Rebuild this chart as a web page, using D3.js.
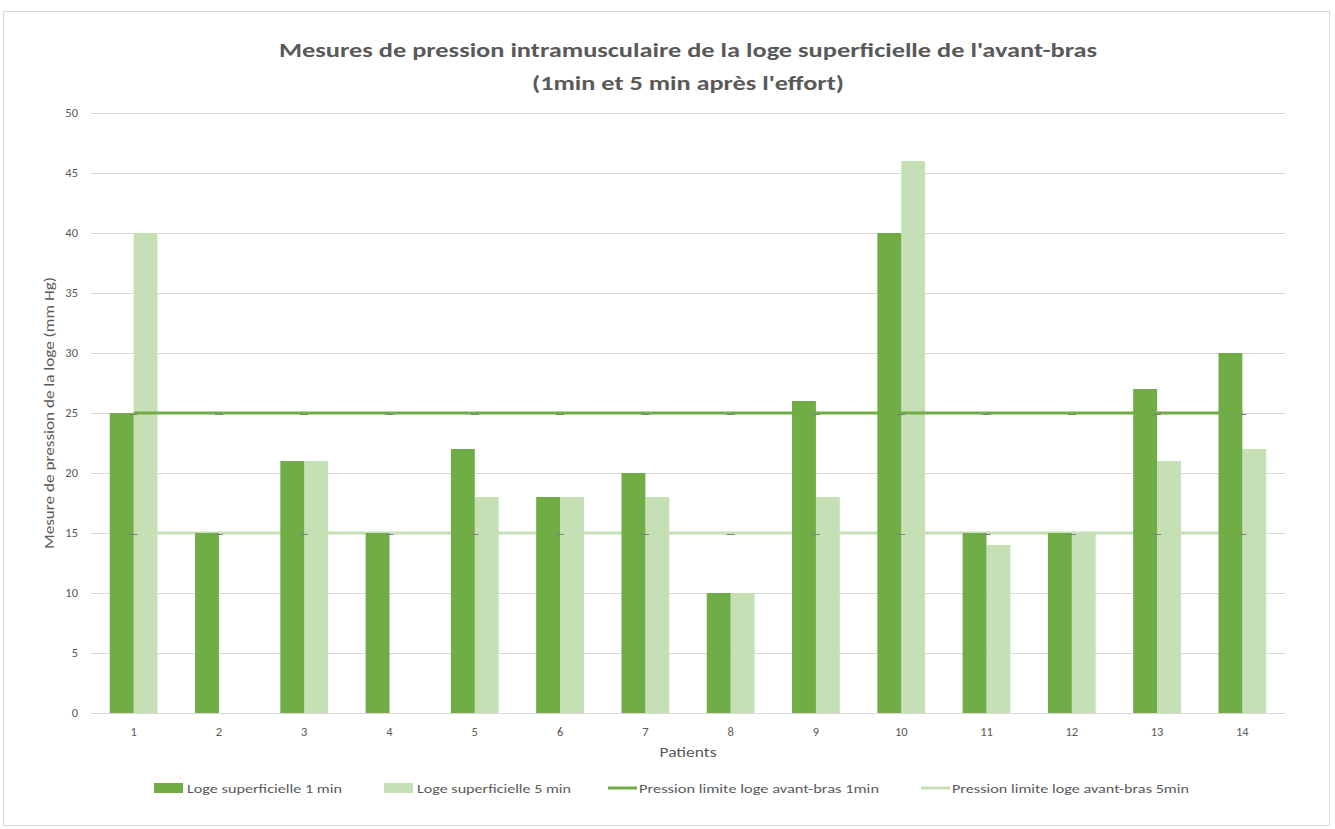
<!DOCTYPE html>
<html lang="fr">
<head>
    <meta charset="UTF-8">
    <title>Mesures de pression intramusculaire</title>
    <script src="https://d3js.org/d3.v7.min.js"></script>
    <style>
        body {
            margin: 0;
            background: #fff;
            font-family: Carlito, "Liberation Sans Narrow", "Open Sans", sans-serif;
        }
        .grid line { stroke: #d9d9d9; stroke-width: 1px; }
        .tick-label { font-size: 12.5px; fill: #595959; }
        .axis-title { font-size: 15px; fill: #595959; }
        .title { font-size: 21px; font-weight: bold; fill: #595959; }
        .legend-text { font-size: 13px; fill: #595959; }
    </style>
</head>
<body>
    <svg id="chart" width="1335" height="829"></svg>
    <script>
        // Data
        const patients = ["1", "2", "3", "4", "5", "6", "7", "8", "9", "10", "11", "12", "13", "14"];
        const loge1min = [25, 15, 21, 15, 22, 18, 20, 10, 26, 40, 15, 15, 27, 30];
        const loge5min = [40, null, 21, null, 18, 18, 18, 10, 18, 46, 14, 15, 21, 22];
        const limite1min = [25, 25, 25, 25, 25, 25, 25, 25, 25, 25, 25, 25, 25, 25];
        const limite5min = [15, 15, 15, 15, 15, 15, 15, 15, 15, 15, 15, 15, 15, 15];
        const yTicks = [0, 5, 10, 15, 20, 25, 30, 35, 40, 45, 50];

        const dark = "#70AD47";
        const light = "#C5E0B4";

        const svg = d3.select("#chart");

        // chart border
        svg.append("rect")
            .attr("x", 3.5).attr("y", 11.5)
            .attr("width", 1326).attr("height", 814)
            .attr("fill", "#fff")
            .attr("stroke", "#d9d9d9");

        const plot = { left: 91, right: 1285, top: 113, bottom: 713 };

        const x = d3.scaleBand()
            .domain(patients)
            .range([plot.left, plot.right])
            .paddingInner(0.44)
            .paddingOuter(0.22);
        const xSub = d3.scaleBand()
            .domain(["1min", "5min"])
            .range([0, x.bandwidth()]);
        const y = d3.scaleLinear().domain([0, 50]).range([plot.bottom, plot.top]);
        const cx = p => x(p) + x.bandwidth() / 2;

        // gridlines
        svg.append("g").attr("class", "grid")
            .selectAll("line").data(yTicks).join("line")
            .attr("x1", plot.left).attr("x2", plot.right)
            .attr("y1", d => Math.round(y(d)) + 0.5)
            .attr("y2", d => Math.round(y(d)) + 0.5);

        // y tick labels
        svg.append("g").selectAll("text").data(yTicks).join("text")
            .attr("class", "tick-label")
            .attr("x", 78).attr("y", d => y(d) + 4)
            .attr("text-anchor", "end")
            .text(d => d);

        // x tick labels
        svg.append("g").selectAll("text").data(patients).join("text")
            .attr("class", "tick-label")
            .attr("x", d => cx(d)).attr("y", 736)
            .attr("text-anchor", "middle")
            .text(d => d);

        // light bars (5 min)
        svg.append("g").selectAll("rect")
            .data(patients.map((p, i) => ({ p, v: loge5min[i] })).filter(d => d.v != null))
            .join("rect")
            .attr("x", d => x(d.p) + xSub("5min"))
            .attr("width", xSub.bandwidth())
            .attr("y", d => y(d.v))
            .attr("height", d => y(0) - y(d.v))
            .attr("fill", light);

        // limit lines
        const line = d3.line().x((d, i) => cx(patients[i])).y(d => y(d));
        svg.append("path").datum(limite5min)
            .attr("d", line).attr("fill", "none")
            .attr("stroke", light).attr("stroke-width", 3);
        svg.append("path").datum(limite1min)
            .attr("d", line).attr("fill", "none")
            .attr("stroke", dark).attr("stroke-width", 3);

        // dark bars (1 min)
        svg.append("g").selectAll("rect")
            .data(patients.map((p, i) => ({ p, v: loge1min[i] })))
            .join("rect")
            .attr("x", d => x(d.p) + xSub("1min"))
            .attr("width", xSub.bandwidth())
            .attr("y", d => y(d.v))
            .attr("height", d => y(0) - y(d.v))
            .attr("fill", dark);

        // small markers on the limit lines
        const markers = svg.append("g");
        [limite1min, limite5min].forEach(series => {
            markers.selectAll(null).data(series).join("line")
                .attr("x1", (d, i) => cx(patients[i]) - 4)
                .attr("x2", (d, i) => cx(patients[i]) + 4)
                .attr("y1", d => y(d) + 1.5)
                .attr("y2", d => y(d) + 1.5)
                .attr("stroke", "#7f7f7f")
                .attr("stroke-width", 1);
        });

        // titles
        svg.append("text").attr("class", "title")
            .attr("x", 688).attr("y", 57).attr("text-anchor", "middle")
            .attr("textLength", 818).attr("lengthAdjust", "spacingAndGlyphs")
            .text("Mesures de pression intramusculaire de la loge superficielle de l'avant-bras");
        svg.append("text").attr("class", "title")
            .attr("x", 688).attr("y", 90).attr("text-anchor", "middle")
            .attr("textLength", 312).attr("lengthAdjust", "spacingAndGlyphs")
            .text("(1min et 5 min après l'effort)");

        svg.append("text").attr("class", "axis-title")
            .attr("x", 688).attr("y", 757).attr("text-anchor", "middle")
            .attr("textLength", 57).attr("lengthAdjust", "spacingAndGlyphs")
            .text("Patients");

        svg.append("text").attr("class", "axis-title")
            .attr("transform", "translate(54,413) rotate(-90)")
            .attr("text-anchor", "middle")
            .attr("textLength", 272).attr("lengthAdjust", "spacingAndGlyphs")
            .text("Mesure de pression de la loge (mm Hg)");

        // legend
        const legend = [
            { label: "Loge superficielle 1 min", color: dark, type: "bar", x: 154, w: 155 },
            { label: "Loge superficielle 5 min", color: light, type: "bar", x: 384, w: 154 },
            { label: "Pression limite loge avant-bras 1min", color: dark, type: "line", x: 608, w: 240 },
            { label: "Pression limite loge avant-bras 5min", color: light, type: "line", x: 921, w: 237 }
        ];
        const lg = svg.append("g").selectAll("g").data(legend).join("g")
            .attr("transform", d => `translate(${d.x},788)`);
        lg.filter(d => d.type === "bar").append("rect")
            .attr("x", 0).attr("y", -5).attr("width", 29).attr("height", 10)
            .attr("fill", d => d.color);
        lg.filter(d => d.type === "line").append("line")
            .attr("x1", 0).attr("x2", 29).attr("y1", 0).attr("y2", 0)
            .attr("stroke", d => d.color).attr("stroke-width", 3);
        lg.append("text").attr("class", "legend-text")
            .attr("x", d => d.type === "bar" ? 33 : 31).attr("y", 5)
            .attr("textLength", d => d.w).attr("lengthAdjust", "spacingAndGlyphs")
            .text(d => d.label);
    </script>
</body>
</html>
